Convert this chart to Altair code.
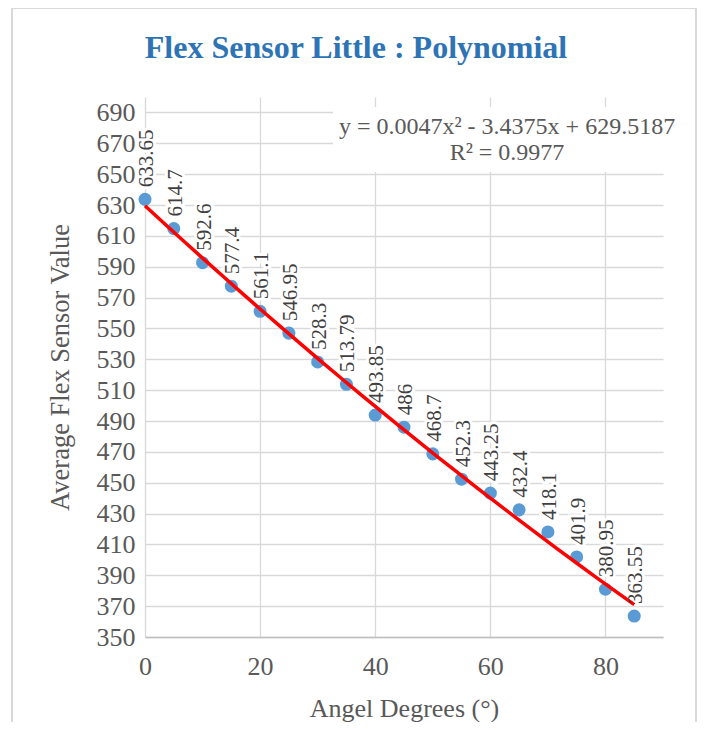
import altair as alt
import pandas as pd

angles = [0, 5, 10, 15, 20, 25, 30, 35, 40, 45, 50, 55, 60, 65, 70, 75, 80, 85]
values = [633.65, 614.7, 592.6, 577.4, 561.1, 546.95, 528.3, 513.79, 493.85, 486,
          468.7, 452.3, 443.25, 432.4, 418.1, 401.9, 380.95, 363.55]
y_ticks = list(range(350, 691, 20))
x_ticks = [0, 20, 40, 60, 80]
title_text = "Flex Sensor Little : Polynomial"
eq_lines = ["y = 0.0047x² - 3.4375x + 629.5187", "R² = 0.9977"]

FONT = "Liberation Serif"
df = pd.DataFrame({"angle": angles, "value": values,
                   "label": [f"{v:g}" for v in values]})
one = pd.DataFrame({"k": [0]})

W, H = 518, 540

xs = alt.Scale(domain=[0, 90], nice=False)
ys = alt.Scale(domain=[350, 700], nice=False)

x_enc = alt.X("angle:Q", scale=xs, axis=alt.Axis(
    values=x_ticks, tickCount=len(x_ticks), title="Angel Degrees (°)", grid=True,
    gridColor="#d9d9d9", gridWidth=1.3, domain=True, domainColor="#bfbfbf",
    domainWidth=1.5, ticks=False,
    labelFont=FONT, labelFontSize=26, labelColor="#595959", labelPadding=16,
    labelFlush=False, labelOverlap=False,
    titleFont=FONT, titleFontSize=26, titleFontWeight="normal", titleColor="#595959",
    titleY=71, titleBaseline="middle"))
y_enc = alt.Y("value:Q", scale=ys, axis=alt.Axis(
    values=y_ticks, tickCount=len(y_ticks) + 2, title="Average Flex Sensor Value",
    grid=True, gridColor="#d9d9d9", gridWidth=1.3, domain=False, ticks=False,
    labelFont=FONT, labelFontSize=26, labelColor="#595959", labelPadding=10,
    labelFlush=False, labelOverlap=False,
    titleFont=FONT, titleFontSize=26.5, titleFontWeight="normal", titleColor="#595959",
    titleX=-85, titleY=H / 2, titleBaseline="middle", titleAngle=270))

frame = alt.Chart(one).mark_rect(filled=False, stroke="#d9d9d9", strokeWidth=2, clip=False).encode(
    x=alt.value(-133), x2=alt.value(551), y=alt.value(-89), y2=alt.value(700))

eqbox = alt.Chart(one).mark_rect(fill="white", clip=False).encode(
    x=alt.value(188), x2=alt.value(549), y=alt.value(10), y2=alt.value(75))

points = alt.Chart(df).mark_circle(size=170, color="#5B9BD5", opacity=1).encode(
    x=x_enc, y=y_enc)

halo = alt.Chart(df).mark_text(angle=270, align="left", baseline="middle", dx=12, dy=2,
                               font=FONT, fontSize=21, stroke="white", strokeWidth=6,
                               strokeJoin="miter", fill="white").encode(
    x="angle:Q", y="value:Q", text="label:N")

trend = alt.Chart(df).transform_regression(
    "angle", "value", method="poly", order=2).mark_line(
    color="#FF0000", strokeWidth=3.5).encode(x="angle:Q", y="value:Q")

labels = alt.Chart(df).mark_text(angle=270, align="left", baseline="middle", dx=12, dy=2,
                                 font=FONT, fontSize=21, color="#404040").encode(
    x="angle:Q", y="value:Q", text="label:N")

eq1 = alt.Chart(one).mark_text(text=eq_lines[0], font=FONT, fontSize=24, color="#595959",
                               align="center", baseline="alphabetic", clip=False).encode(
    x=alt.value(362), y=alt.value(37))
eq2 = alt.Chart(one).mark_text(text=eq_lines[1], font=FONT, fontSize=24, color="#595959",
                               align="center", baseline="alphabetic", clip=False).encode(
    x=alt.value(362), y=alt.value(63))

title = alt.Chart(one).mark_text(text=title_text, font=FONT, fontSize=32, fontWeight="bold",
                                 color="#2E74B5", align="center", baseline="alphabetic",
                                 clip=False).encode(
    x=alt.value(211), y=alt.value(-39))

chart = alt.layer(frame, eqbox, points, halo, trend, labels, eq1, eq2, title).properties(
    width=W, height=H,
    padding={"left": 137, "top": 89, "right": 34, "bottom": 85},
    autosize=alt.AutoSizeParams(type="none"),
    background="white",
).configure_view(strokeOpacity=0)

chart.save("out.html", embed_options={"renderer": "svg", "actions": False})
